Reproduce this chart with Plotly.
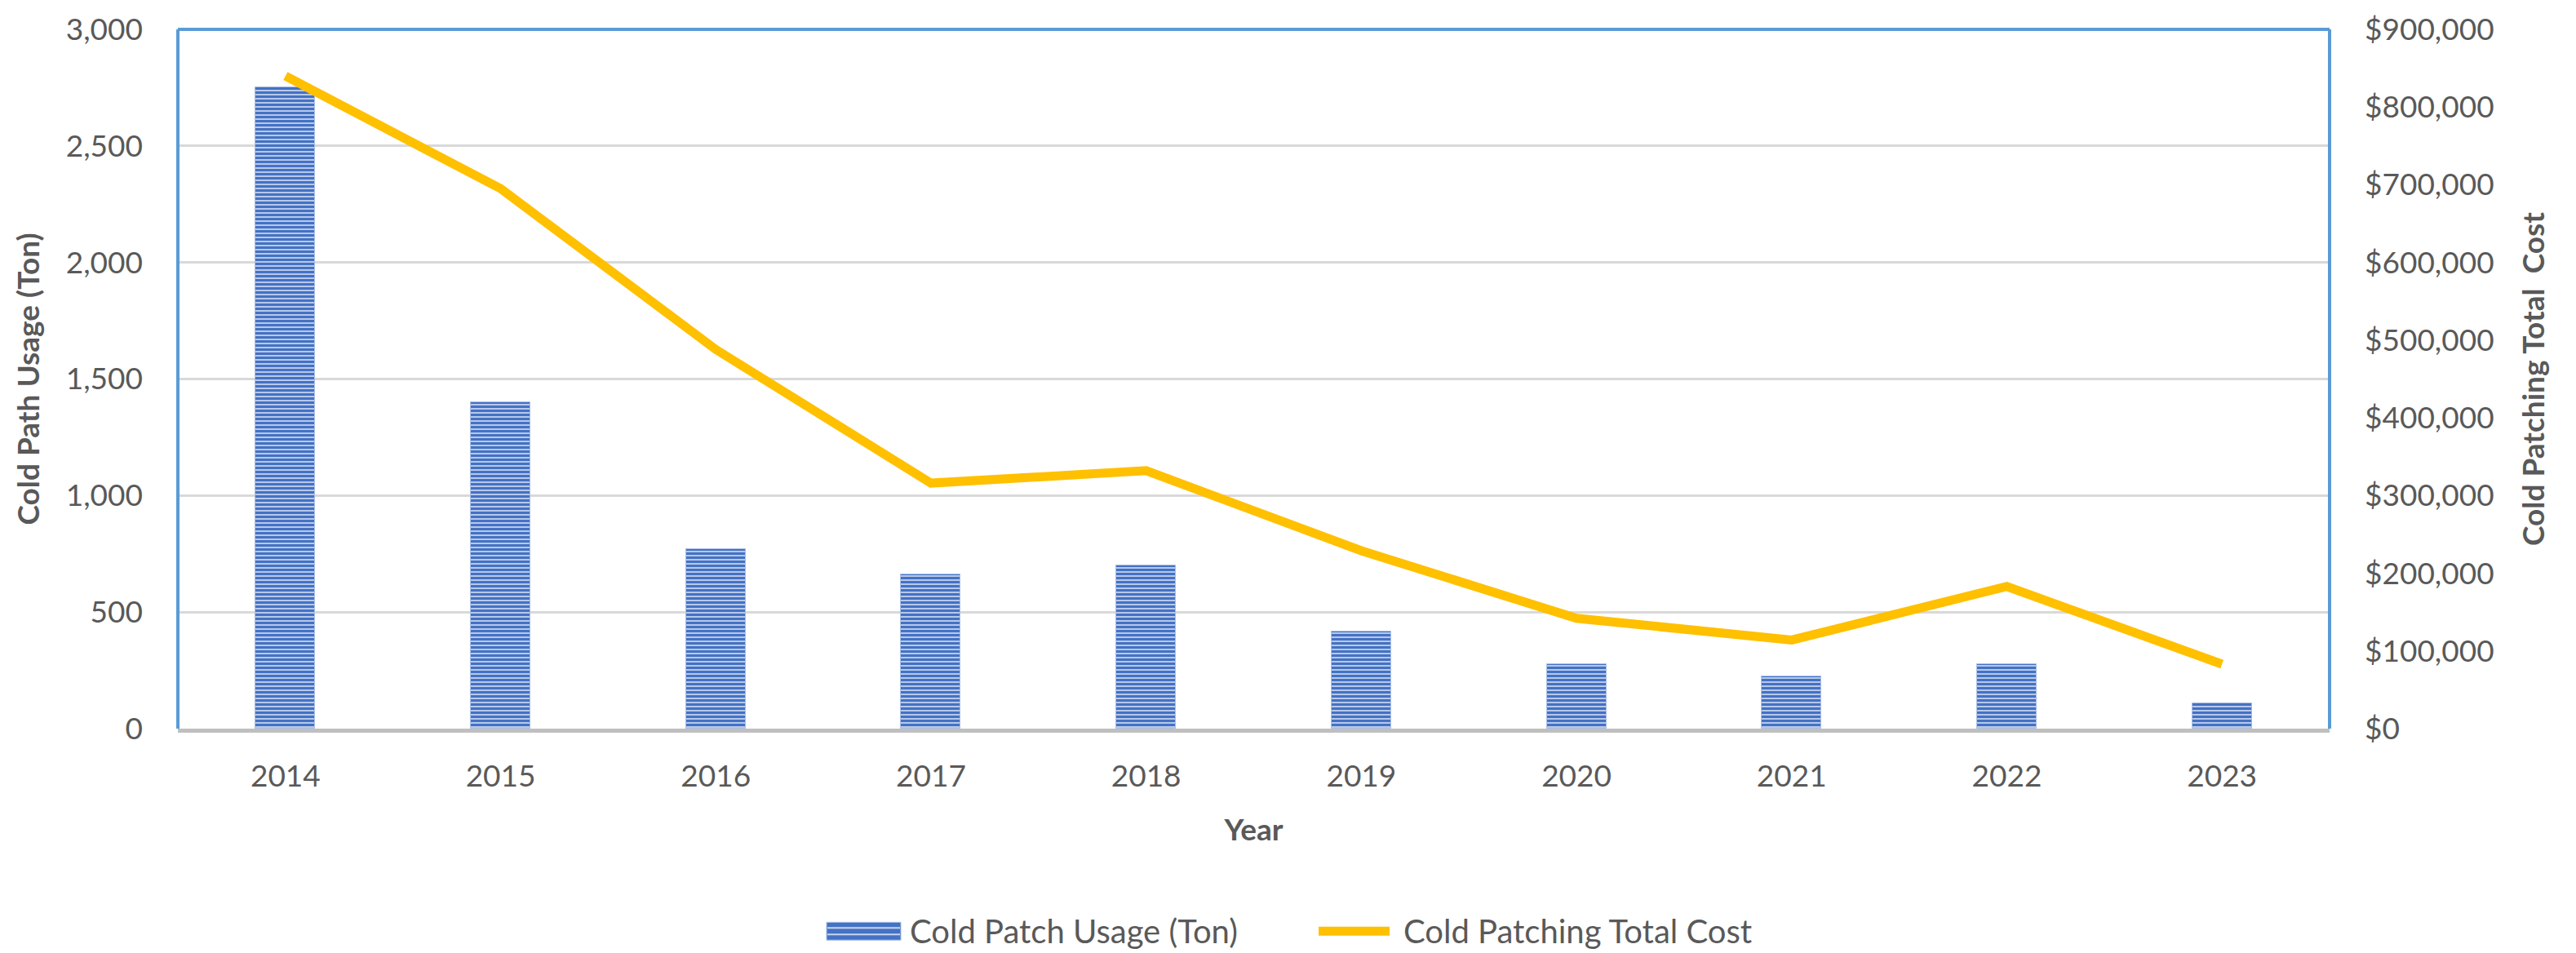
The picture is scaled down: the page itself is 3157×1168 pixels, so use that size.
import plotly.graph_objects as go

# Yearly cold patch usage and total cost
years = ["2014", "2015", "2016", "2017", "2018", "2019", "2020", "2021", "2022", "2023"]
usage_tons = [2750, 1400, 770, 660, 700, 415, 275, 225, 275, 110]
total_cost = [840000, 695000, 488000, 316000, 332000, 229000, 142000, 114000, 183000, 83000]

usage_ticks = [0, 500, 1000, 1500, 2000, 2500, 3000]
cost_ticks = [0, 100000, 200000, 300000, 400000, 500000, 600000, 700000, 800000, 900000]

W, H = 3157, 1168
L, R, T, B = 218, 302, 30, 275
FONT = "Lato"
GREY = "#595959"
BLUE_FRAME = "#5B9BD5"
BAR_BLUE = "#4472C4"
BAR_LIGHT = "#BCCDEC"
GOLD = "#FFC000"

plot_w = W - L - R
plot_h = H - T - B


def px(x):
    return (x - L) / plot_w


def py(y):
    return (H - B - y) / plot_h


fig = go.Figure()

fig.add_trace(go.Bar(
    x=years, y=usage_tons, name="Cold Patch Usage (Ton)",
    width=0.277,
    marker=dict(
        color=BAR_LIGHT,
        line=dict(color="#A9BEE6", width=1),
        pattern=dict(shape="-", fgcolor=BAR_BLUE, bgcolor=BAR_LIGHT,
                     size=5, solidity=0.62, fillmode="replace"),
    ),
    showlegend=False,
    yaxis="y",
))

fig.add_trace(go.Scatter(
    x=years, y=total_cost, name="Cold Patching Total Cost",
    mode="lines",
    line=dict(color=GOLD, width=11),
    showlegend=False,
    yaxis="y2",
))

tick_font = dict(family=FONT, size=37, color=GREY)
title_font = dict(family=FONT, size=37, color=GREY, weight="bold")

fig.update_layout(
    width=W, height=H,
    autosize=False,
    margin=dict(l=L, r=R, t=T, b=B, pad=0),
    paper_bgcolor="white",
    plot_bgcolor="white",
    bargap=0,
    xaxis=dict(
        type="category",
        showline=True, linecolor="#BFBFBF", linewidth=5,
        showgrid=False, zeroline=False,
        ticks="", tickfont=tick_font,
        ticklabelstandoff=22,
        title=dict(text="Year", font=title_font, standoff=34),
    ),
    yaxis=dict(
        range=[0, 3000],
        tickvals=usage_ticks, tickformat=",",
        showgrid=True, gridcolor="#D9D9D9", gridwidth=3,
        zeroline=False, showline=False,
        ticks="", tickfont=tick_font,
        ticklabelstandoff=42,
        title=dict(text="Cold Path Usage (Ton)", font=title_font, standoff=20),
    ),
    yaxis2=dict(
        range=[0, 900000],
        tickvals=cost_ticks, tickformat="$,.0f",
        overlaying="y", side="right",
        showgrid=False, zeroline=False, showline=False,
        ticks="", tickfont=tick_font,
        ticklabelstandoff=42,
        title=dict(text="Cold Patching Total  Cost", font=title_font, standoff=36),
    ),
)

# blue frame on the left, top and right sides of the plot area
frame = dict(type="line", xref="paper", yref="paper", layer="above",
             line=dict(color=BLUE_FRAME, width=4))
fig.add_shape(x0=0, x1=0, y0=0, y1=1, **frame)
fig.add_shape(x0=0, x1=1, y0=1, y1=1, **frame)
fig.add_shape(x0=1, x1=1, y0=0, y1=1, **frame)

# legend, drawn below the axis title
leg_y = 1143
sw_h = 22
fig.add_shape(type="rect", xref="paper", yref="paper",
              x0=px(1013), x1=px(1104), y0=py(leg_y + sw_h / 2), y1=py(leg_y - sw_h / 2),
              fillcolor=BAR_BLUE, line=dict(color="#A9BEE6", width=1))
for dy in (-4, 4):
    fig.add_shape(type="line", xref="paper", yref="paper",
                  x0=px(1014), x1=px(1103), y0=py(leg_y + dy), y1=py(leg_y + dy),
                  line=dict(color="#C9D6EF", width=2))
fig.add_shape(type="line", xref="paper", yref="paper",
              x0=px(1616), x1=px(1703), y0=py(leg_y), y1=py(leg_y),
              line=dict(color=GOLD, width=11))

legend_font = dict(family=FONT, size=40, color=GREY)
fig.add_annotation(x=px(1113), y=py(leg_y), xref="paper", yref="paper",
                   text="Cold Patch Usage (Ton)", showarrow=False,
                   xanchor="left", yanchor="middle", font=legend_font)
fig.add_annotation(x=px(1718), y=py(leg_y), xref="paper", yref="paper",
                   text="Cold Patching Total Cost", showarrow=False,
                   xanchor="left", yanchor="middle", font=legend_font)

fig.write_html("out.html")
